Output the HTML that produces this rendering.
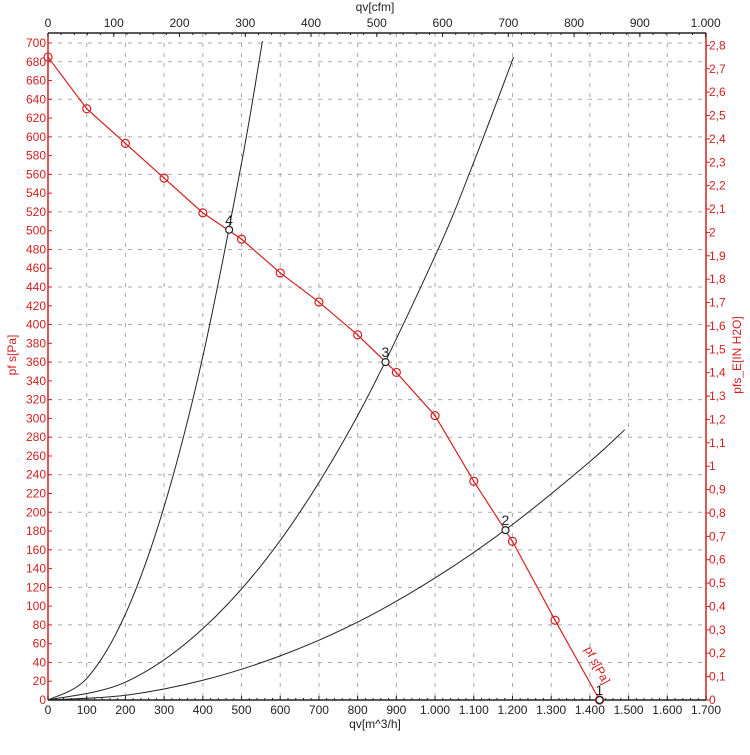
<!DOCTYPE html>
<html><head><meta charset="utf-8"><style>
body{margin:0;background:#fff}
svg{font-family:"Liberation Sans",sans-serif}
</style></head><body>
<svg id="chart" width="750" height="750" viewBox="0 0 750 750" xmlns="http://www.w3.org/2000/svg">
<g id="grid"></g>
<g id="axes"></g>
<g id="series"></g>
<text x="375" y="728" font-size="12" text-anchor="middle" fill="#222">qv[m^3/h]</text>
<text x="375" y="11" font-size="12" text-anchor="middle" fill="#222">qv[cfm]</text>
<text transform="translate(16,355) rotate(-90)" font-size="12" text-anchor="middle" fill="#d42020">pf s[Pa]</text>
<text transform="translate(741,355) rotate(-90)" font-size="12" text-anchor="middle" fill="#d42020">pfs_E[IN H2O]</text>
</svg>
<script>
const pressureFlow=[0,100,200,300,400,500,600,700,800,900,1000,1100,1200,1310,1425];
const pressurePa=[685,630,593,556,519,491,455,424,389,349,303,233,169,85,0];
const opFlow=[1425,1182,872,468];
const opPa=[0,181,360,501];
const opLabels=["1","2","3","4"];
const sys4Flow=[0,100,200,300,400,500,554];
const sys4Pa=[0,23,91.5,206,366,572,702];
const sys3Flow=[0,200,400,600,800,1000,1100,1203];
const sys3Pa=[0,19,76,170,303,473,573,685];
const sys2Flow=[0,200,400,600,800,1000,1200,1400,1490];
const sys2Pa=[0,5,21,47,83,130,187,254,288];
const xTicks=[0,100,200,300,400,500,600,700,800,900,1000,1100,1200,1300,1400,1500,1600,1700];
const cfmTicks=[0,100,200,300,400,500,600,700,800,900,1000];
const inTicks=[0,0.1,0.2,0.3,0.4,0.5,0.6,0.7,0.8,0.9,1,1.1,1.2,1.3,1.4,1.5,1.6,1.7,1.8,1.9,2,2.1,2.2,2.3,2.4,2.5,2.6,2.7,2.8];

const L=48,R=706,B=700,T=33,XMAX=1700;
const sx=v=>L+v*(R-L)/XMAX;
const sy=v=>B-v*0.9386;
const sc=v=>L+v*1.699*(R-L)/XMAX;
const si=v=>sy(v*249.09);
const NS="http://www.w3.org/2000/svg";
function mk(tag,parent,attrs){const e=document.createElementNS(NS,tag);for(const k in attrs)e.setAttribute(k,attrs[k]);parent.appendChild(e);return e;}
const grid=document.getElementById('grid'),axes=document.getElementById('axes'),ser=document.getElementById('series');
const fmt=v=>v>=1000?Math.floor(v/1000)+"."+String(v%1000).padStart(3,"0"):String(v);

for(let v=100;v<XMAX;v+=100){const l=mk('line',grid,{x1:sx(v),x2:sx(v),y1:T,y2:B,stroke:'#a8a8a8','stroke-dasharray':'4,6'});

}
for(let v=40;v<=700;v+=40){const l=mk('line',grid,{x1:L,x2:R,y1:sy(v),y2:sy(v),stroke:'#a8a8a8','stroke-dasharray':'4,6'});

}
{const l=mk('line',grid,{x1:L,x2:R,y1:sy(700),y2:sy(700),stroke:'#a8a8a8','stroke-dasharray':'4,6'});

}

let f=mk('line',axes,{x1:L,x2:R,y1:B,y2:B,stroke:'#222','stroke-width':1.5});


f=mk('line',axes,{x1:L,x2:R,y1:T,y2:T,stroke:'#222','stroke-width':1.5});


f=mk('line',axes,{x1:L,x2:L,y1:T,y2:B,stroke:'#d42020','stroke-width':1.5});


f=mk('line',axes,{x1:R,x2:R,y1:T,y2:B,stroke:'#d42020','stroke-width':1.5});



for(let v=0;v<=1700;v+=20){mk('line',axes,{x1:sx(v),x2:sx(v),y1:B,y2:B-2,stroke:'#222'});}
for(let v=0;v<=1000;v+=20){mk('line',axes,{x1:sc(v),x2:sc(v),y1:T,y2:T+2,stroke:'#222'});}
xTicks.forEach(v=>{mk('line',axes,{x1:sx(v),x2:sx(v),y1:B,y2:B-4,stroke:'#222'});
const t=mk('text',axes,{x:sx(v),y:B+14,'font-size':12,'text-anchor':'middle',fill:'#222'});t.textContent=fmt(v);

});
cfmTicks.forEach(v=>{mk('line',axes,{x1:sc(v),x2:sc(v),y1:T,y2:T+4,stroke:'#222'});
const t=mk('text',axes,{x:sc(v),y:T-6,'font-size':12,'text-anchor':'middle',fill:'#222'});t.textContent=fmt(v);

});
for(let v=0;v<=700;v+=20){mk('line',axes,{x1:L,x2:L+4,y1:sy(v),y2:sy(v),stroke:'#d42020'});
const t=mk('text',axes,{x:L-2,y:sy(v)+4,'font-size':12,'text-anchor':'end',fill:'#d42020'});t.textContent=v;

}
inTicks.forEach(v=>{mk('line',axes,{x1:R,x2:R+4,y1:si(v),y2:si(v),stroke:'#d42020'});
const t=mk('text',axes,{x:R+3,y:si(v)+4,'font-size':12,fill:'#d42020'});t.textContent=String(Math.round(v*10)/10).replace('.',',');

});

function smooth(xs,ys){const p=xs.map((x,i)=>[sx(x),sy(ys[i])]);let d=`M${p[0][0]},${p[0][1]}`;
for(let i=0;i<p.length-1;i++){const p0=p[i-1]||p[i],p1=p[i],p2=p[i+1],p3=p[i+2]||p2;
d+=`C${p1[0]+(p2[0]-p0[0])/6},${p1[1]+(p2[1]-p0[1])/6} ${p2[0]-(p3[0]-p1[0])/6},${p2[1]-(p3[1]-p1[1])/6} ${p2[0]},${p2[1]}`;}return d;}
[[sys4Flow,sys4Pa,'system-curve-4'],[sys3Flow,sys3Pa,'system-curve-3'],[sys2Flow,sys2Pa,'system-curve-2']].forEach(([a,b,n])=>{
const p=mk('path',ser,{d:smooth(a,b),fill:'none',stroke:'#222','stroke-width':1});

});
const pl=mk('polyline',ser,{points:pressureFlow.map((x,i)=>sx(x)+','+sy(pressurePa[i])).join(' '),fill:'none',stroke:'#d42020','stroke-width':1.2});


pressureFlow.forEach((x,i)=>{const c=mk('circle',ser,{cx:sx(x),cy:sy(pressurePa[i]),r:4,fill:'none',stroke:'#d42020','stroke-width':1.2});


mk('circle',ser,{cx:sx(x),cy:sy(pressurePa[i]),r:0.8,fill:'#d42020'});});
opFlow.forEach((x,i)=>{const c=mk('circle',ser,{cx:sx(x),cy:sy(opPa[i]),r:3.5,fill:'#fff',stroke:'#222','stroke-width':1.2});


const t=mk('text',ser,{x:sx(x)-4,y:sy(opPa[i])-5,'font-size':14,fill:'#222'});t.textContent=opLabels[i];

});
const cl=mk('text',ser,{transform:`translate(${sx(1410)},${sy(35)}) rotate(62)`,'font-size':12,'text-anchor':'middle',fill:'#d42020'});cl.textContent='pf s[Pa]';


</script>
</body></html>
